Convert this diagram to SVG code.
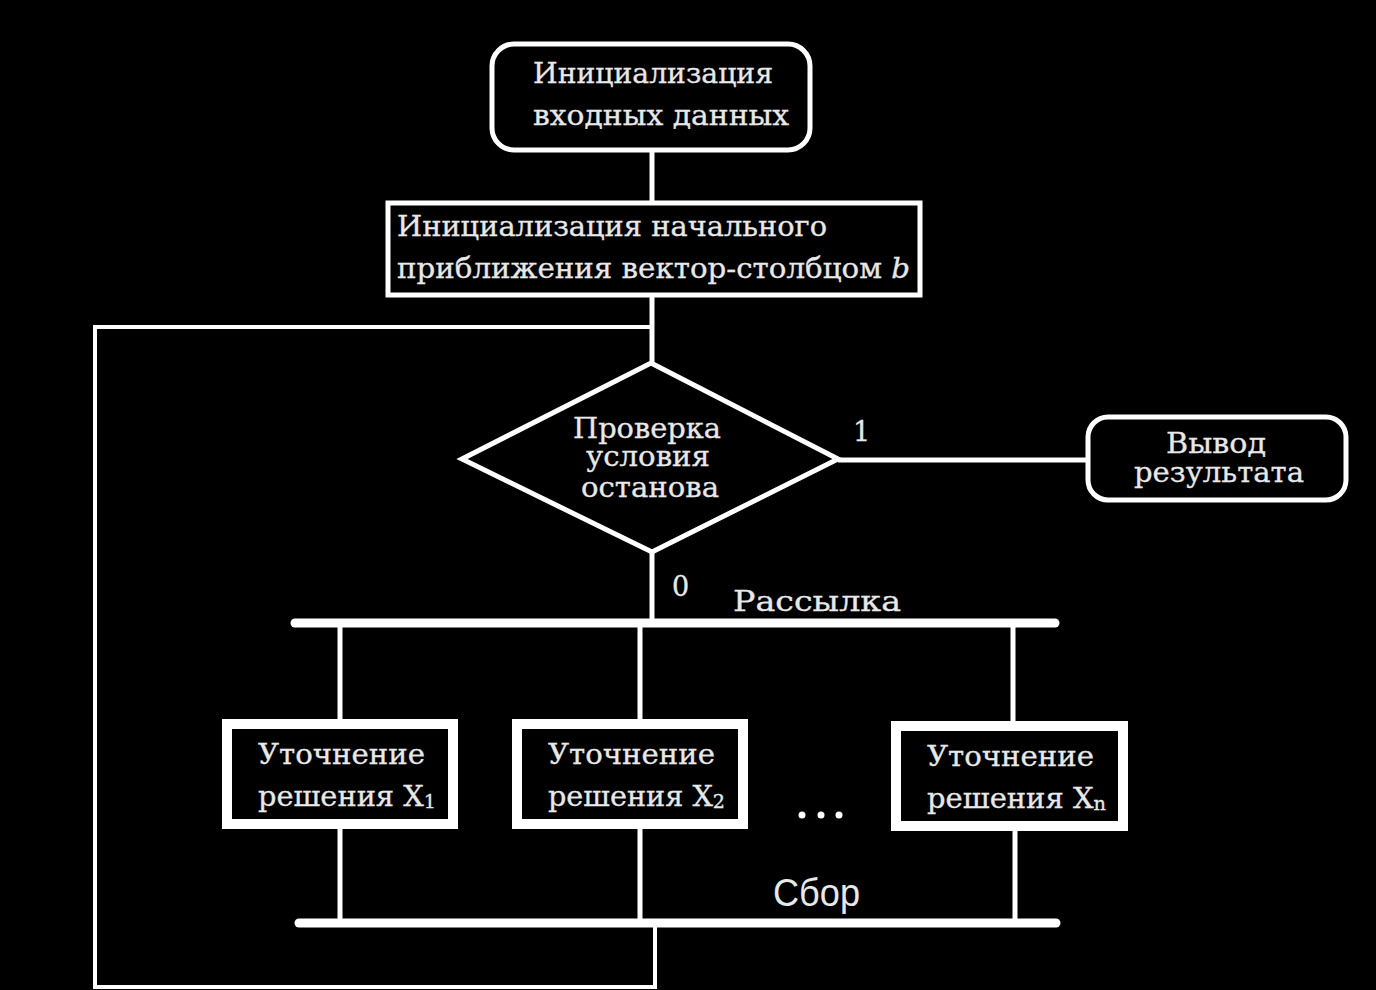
<svg xmlns="http://www.w3.org/2000/svg" width="1376" height="990" viewBox="0 0 1376 990">
<style>
.bg{fill:#000}
.ln{stroke:#fff;stroke-width:5;fill:none}
.ln4{stroke:#fff;stroke-width:4;fill:none}
.bar{stroke:#fff;stroke-width:9;stroke-linecap:round;fill:none}
.box{fill:#000;stroke:#fff;stroke-width:5}
.thick{fill:#000;stroke:#fff;stroke-width:10}
.t{font-family:"DejaVu Serif","Liberation Serif",serif;fill:#e8e8e8;font-size:27px;stroke:#e8e8e8;stroke-width:0.3}
.s{font-family:"Liberation Sans","DejaVu Sans",sans-serif;fill:#e8e8e8}
</style>
<rect class="bg" x="0" y="0" width="1376" height="990"/>
<g id="connectors">
  <line class="ln" x1="652" y1="150" x2="652" y2="202"/>
  <line class="ln" x1="652" y1="295" x2="652" y2="362"/>
  <polyline class="ln4" points="652,327 95,327 95,987 655,987 655,923"/>
  <line class="ln" x1="838" y1="460" x2="1088" y2="460"/>
  <line class="ln" x1="652" y1="552" x2="652" y2="622"/>
  <line class="bar" x1="295" y1="623" x2="1055" y2="623"/>
  <line class="ln" x1="340" y1="623" x2="340" y2="720"/>
  <line class="ln" x1="640" y1="623" x2="640" y2="720"/>
  <line class="ln" x1="1013" y1="623" x2="1013" y2="722"/>
  <line class="ln" x1="340" y1="828" x2="340" y2="923"/>
  <line class="ln" x1="640" y1="828" x2="640" y2="923"/>
  <line class="ln" x1="1015" y1="830" x2="1015" y2="923"/>
  <line class="bar" x1="299" y1="923" x2="1056" y2="923"/>
  <text class="t" x="853" y="441" font-size="24">1</text>
  <text class="t" x="672" y="596" font-size="22">0</text>
  <text class="t" x="733" y="611" font-size="42" textLength="168" lengthAdjust="spacingAndGlyphs">Рассылка</text>
  <text class="s" x="773" y="906" font-size="38" textLength="87" lengthAdjust="spacingAndGlyphs">Сбор</text>
</g>
<g id="n_init_input">
  <rect class="box" x="492" y="44" width="318" height="106" rx="22"/>
  <text class="t" x="533" y="83" textLength="240" lengthAdjust="spacingAndGlyphs">Инициализация</text>
  <text class="t" x="533" y="125" textLength="256" lengthAdjust="spacingAndGlyphs">входных данных</text>
</g>
<g id="n_init_approx">
  <rect class="box" x="388" y="203" width="532" height="92"/>
  <text class="t" x="397" y="236" textLength="430" lengthAdjust="spacingAndGlyphs">Инициализация начального</text>
  <text class="t" x="397" y="278" textLength="513" lengthAdjust="spacingAndGlyphs">приближения вектор-столбцом <tspan font-style="italic">b</tspan></text>
</g>
<g id="n_check">
  <polygon class="box" points="651,363 838,459 652,552 462,459"/>
  <text class="t" x="647" y="438" text-anchor="middle" textLength="148" lengthAdjust="spacingAndGlyphs">Проверка</text>
  <text class="t" x="648" y="466" text-anchor="middle" textLength="124" lengthAdjust="spacingAndGlyphs">условия</text>
  <text class="t" x="650" y="497" text-anchor="middle" textLength="138" lengthAdjust="spacingAndGlyphs">останова</text>
</g>
<g id="n_output">
  <rect class="box" x="1088" y="417" width="258" height="83" rx="20"/>
  <text class="t" x="1216" y="453" text-anchor="middle" textLength="100" lengthAdjust="spacingAndGlyphs">Вывод</text>
  <text class="t" x="1219" y="482" text-anchor="middle" textLength="170" lengthAdjust="spacingAndGlyphs">результата</text>
</g>
<g id="n_x1">
  <rect class="thick" x="227" y="724" width="226" height="100"/>
  <text class="t" x="258" y="764" textLength="167" lengthAdjust="spacingAndGlyphs">Уточнение</text>
  <text class="t" x="258" y="806" textLength="178" lengthAdjust="spacingAndGlyphs">решения X<tspan font-size="18" dy="2">1</tspan></text>
</g>
<g id="n_x2">
  <rect class="thick" x="517" y="724" width="226" height="100"/>
  <text class="t" x="548" y="764" textLength="167" lengthAdjust="spacingAndGlyphs">Уточнение</text>
  <text class="t" x="548" y="806" textLength="177" lengthAdjust="spacingAndGlyphs">решения X<tspan font-size="18" dy="2">2</tspan></text>
</g>
<g id="n_dots">
  <circle cx="802" cy="815" r="3.5" fill="#fff"/>
  <circle cx="821" cy="815" r="3.5" fill="#fff"/>
  <circle cx="839" cy="815" r="3.5" fill="#fff"/>
</g>
<g id="n_xn">
  <rect class="thick" x="896" y="726" width="227" height="100"/>
  <text class="t" x="927" y="766" textLength="167" lengthAdjust="spacingAndGlyphs">Уточнение</text>
  <text class="t" x="927" y="808" textLength="179" lengthAdjust="spacingAndGlyphs">решения X<tspan font-size="18" dy="2">n</tspan></text>
</g>
</svg>
